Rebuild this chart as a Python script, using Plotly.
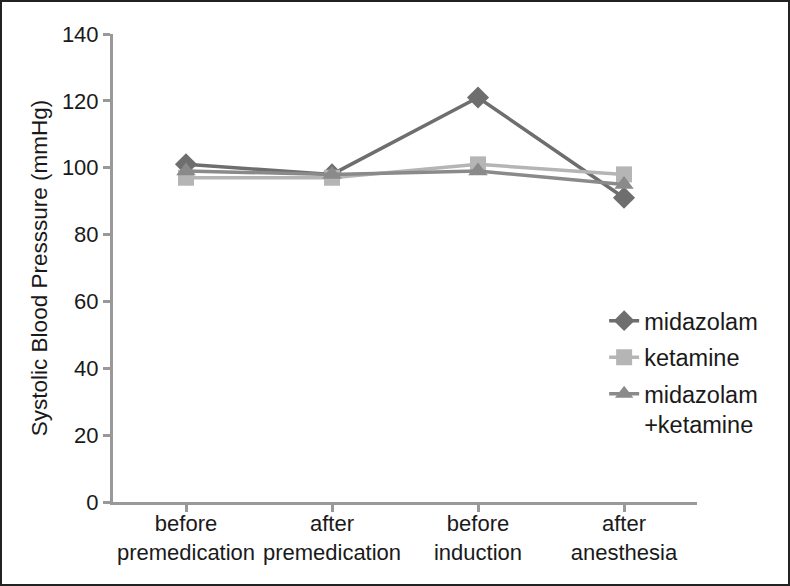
import plotly.graph_objects as go

categories = ["before<br>premedication", "after<br>premedication", "before<br>induction", "after<br>anesthesia"]
midazolam = [101, 98, 121, 91]
ketamine = [97, 97, 101, 98]
mid_ket = [99, 98, 99, 95]
y_ticks = [0, 20, 40, 60, 80, 100, 120, 140]

W, H = 790, 586
L, R, T, B = 113, 93, 34, 84
pw, ph = W - L - R, H - T - B

fig = go.Figure()
series = [
    ("midazolam", midazolam, "#6e6e6e", "diamond", 17),
    ("ketamine", ketamine, "#b5b5b5", "square", 16),
    ("midazolam<br>+ketamine", mid_ket, "#8a8a8a", "triangle-up", 17),
]
for i, (name, vals, col, sym, sz) in enumerate(series):
    fig.add_trace(go.Scatter(
        x=list(range(len(categories))), y=vals, name=name, mode="lines+markers",
        line=dict(color=col, width=3.5),
        marker=dict(symbol=sym, size=sz, color=col),
        legendgroup=f"g{i}",
    ))

fig.update_layout(
    width=W, height=H,
    margin=dict(l=L, r=R, t=T, b=B),
    paper_bgcolor="white", plot_bgcolor="white",
    font=dict(family="Liberation Sans, Arial, sans-serif", size=21, color="#1a1a1a"),
    showlegend=True,
    legend=dict(x=0.841, y=0.434, xanchor="left", yanchor="top",
                font=dict(size=23.5, color="#1a1a1a"), tracegroupgap=3,
                valign="top", bgcolor="rgba(0,0,0,0)"),
    xaxis=dict(
        range=[-0.5, 3.5], tickmode="array", tickvals=list(range(len(categories))),
        ticktext=categories, showgrid=False, zeroline=False,
        showline=True, linecolor="#999999", linewidth=3,
        ticks="outside", tickson="boundaries", ticklen=7, tickwidth=3, tickcolor="#999999",
        tickfont=dict(size=22), ticklabelstandoff=-7,
    ),
    yaxis=dict(
        range=[0, 140], tickvals=y_ticks, showgrid=False, zeroline=False,
        showline=True, linecolor="#999999", linewidth=3,
        ticks="outside", ticklen=7, tickwidth=3, tickcolor="#999999",
        tickfont=dict(size=22),
        title=dict(text="Systolic Blood Presssure (mmHg)", font=dict(size=22.5), standoff=9),
    ),
    shapes=[dict(type="rect", xref="paper", yref="paper",
                 x0=-(L - 1) / pw, x1=1 + (R - 1) / pw,
                 y0=-(B - 1) / ph, y1=1 + (T - 1) / ph,
                 line=dict(color="#222222", width=2), layer="above")],
)

fig.write_html("out.html", config={"displayModeBar": False},
               post_script="document.body.style.margin='0';document.body.style.overflow='hidden';")
